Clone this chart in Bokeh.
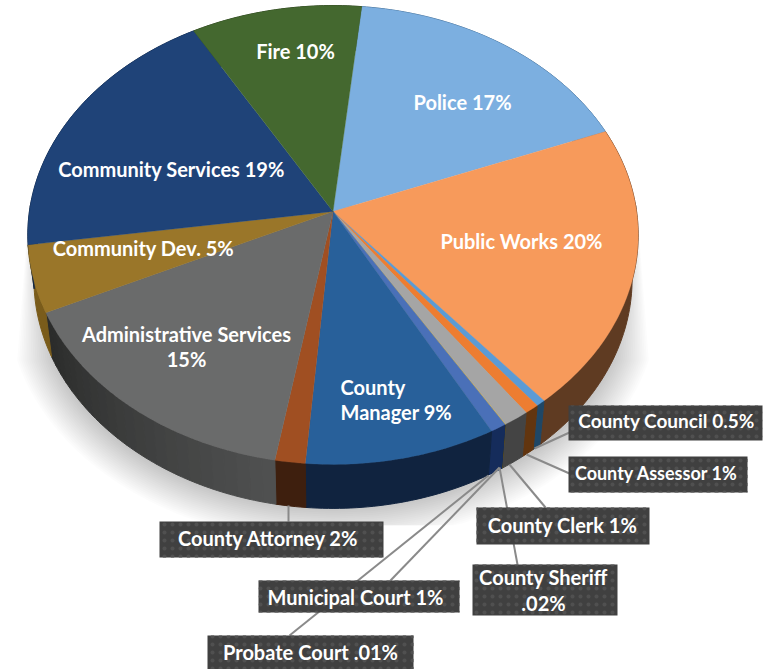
import numpy as np
from bokeh.plotting import figure
from bokeh.models import Range1d
from bokeh.core.properties import value
from bokeh.embed import file_html
from bokeh.resources import INLINE

# ---- data, clockwise from Police (shares as drawn in the picture)
slices = ["Police", "Public Works", "County Council", "County Assessor", "County Clerk",
          "County Sheriff", "Probate Court", "Municipal Court", "County Manager",
          "County Attorney", "Administrative Services", "Community Dev.", "Community Services", "Fire"]
shares = [17.4, 19.9, 0.45, 0.7, 1.25, 0.02, 0.01, 0.75, 9.2, 1.45, 15.25, 4.7, 19.0, 10.0]
top_colors = ["#7cafe0", "#f79a5b", "#5b9bd5", "#ed7d31", "#a5a5a5", "#ffc000", "#4472c4", "#4a70b8",
              "#28609a", "#a04f22", "#6a6b6b", "#9a7629", "#1f4378", "#44682f"]
wall_a = ["#3f6a90", "#5f3b22", "#1f4766", "#62350f", "#444444", "#665000", "#152c5b", "#152c5b",
          "#10233f", "#3e1f0e", "#505151", "#7a5c1b", "#12284a", "#2b3f1c"]
wall_b = ["#3f6a90", "#5f3b22", "#1f4766", "#62350f", "#444444", "#665000", "#152c5b", "#152c5b",
          "#10233f", "#3e1f0e", "#2a2b2a", "#7a5c1b", "#12284a", "#2b3f1c"]
start_deg = 6.0

labels_inside = ["Fire 10%", "Police 17%", "Public Works 20%", "Community Services 19%",
                 "Community Dev. 5%", "Administrative Services", "15%"]
inside_x = [295, 462, 521, 171, 143, 186, 186]
inside_y = [50, 101, 240, 168, 247, 333, 358]
manager_lines = ["County", "Manager 9%"]
manager_x = [340, 340]
manager_y = [386, 411]

box_left = [568, 568, 476, 472, 159, 258, 207]
box_right = [762, 747, 649, 617, 383, 459, 413]
box_top = [405, 456, 507, 564, 521, 580, 635]
box_bottom = [440, 492, 544, 615, 557, 612, 669]
box_text = ["County Clerk 1%", "County Sheriff", ".02%",
            "County Attorney 2%", "Municipal Court 1%", "Probate Court .01%"]
box_text_x = [562, 543, 543, 268, 355, 310]
box_text_y = [524, 576, 602, 537, 596, 651]
council_text, council_x, council_y = ["County Council 0.5%"], [666], [420]
assessor_text, assessor_x, assessor_y = ["County Assessor 1%"], [656], [472]
leader_x = [[534, 569], [526, 569], [509, 545], [499, 517], [288, 288], [499, 390], [488, 289]]
leader_y = [[448, 432], [454, 473], [464, 507], [467, 564], [505, 521], [467, 580], [475, 635]]

# ---- perspective disc
CX, CY = 332.5, 211.0
A, B, K = 303.6, 227.0, -0.1024
DEPTH, SHRINK = 44.0, 0.98


def rim(theta, lower=False):
    s = -np.cos(theta)
    w = 1 + K * s
    x = A * np.sin(theta) / w
    y = B * s / w
    if lower:
        return CX + x * SHRINK, CY + y + DEPTH
    return CX + x, CY + y


def lerp(c1, c2, t):
    a = [int(c1[i:i + 2], 16) for i in (1, 3, 5)]
    b = [int(c2[i:i + 2], 16) for i in (1, 3, 5)]
    return "#%02x%02x%02x" % tuple(int(round(u + (v - u) * t)) for u, v in zip(a, b))


frac = np.array(shares) / sum(shares)
edges = np.radians(start_deg) + np.concatenate([[0], np.cumsum(frac)]) * 2 * np.pi

p = figure(width=764, height=669, output_backend="svg", toolbar_location=None,
           x_range=Range1d(0, 764), y_range=Range1d(669, 0), min_border=0)
p.axis.visible = False
p.grid.visible = False
p.outline_line_color = None
p.background_fill_color = "white"
p.border_fill_color = "white"

# soft shadow: stacked translucent layers, tapering up along the pie's sides
LAYERS = 22
for i in range(LAYERS):
    d = i * 1.9
    rx, ry = 326 - d, 243 - d
    ys = np.linspace(205, 300 + ry, 160)
    knee = 300 + 60
    h_knee = rx * np.sqrt(1 - (60 / ry) ** 2)
    h = np.where(ys > knee,
                 rx * np.sqrt(np.clip(1 - ((ys - 300) / ry) ** 2, 0, 1)),
                 304 + (h_knee - 304) * (ys - 205) / (knee - 205))
    ysc = np.minimum(ys, 525)
    sx = np.concatenate([332.5 - h, (332.5 + h)[::-1]])
    sy = np.concatenate([ysc, ysc[::-1]])
    p.patch(sx, sy, fill_color="#000000", fill_alpha=0.0125, line_color=None)

# wall
wx, wy, wc = [], [], []
for a0, a1, ca, cb in zip(edges[:-1], edges[1:], wall_a, wall_b):
    n = 1 if ca == cb else 24
    th = np.linspace(a0, a1, n + 1)
    for j in range(n):
        tt = np.linspace(th[j], th[j + 1], max(3, int((th[j + 1] - th[j]) / np.radians(1)) + 2))
        xu, yu = rim(tt)
        xl, yl = rim(tt[::-1], True)
        wx.append(list(xu) + list(xl))
        wy.append(list(yu) + list(yl))
        wc.append(lerp(ca, cb, (j + 0.5) / n))
p.patches(wx, wy, fill_color=wc, line_color=wc, line_width=1)

# top
tx, ty = [], []
for a0, a1 in zip(edges[:-1], edges[1:]):
    th = np.linspace(a0, a1, max(3, int((a1 - a0) / np.radians(1)) + 2))
    rx_, ry_ = rim(th)
    tx.append([CX] + list(rx_))
    ty.append([CY] + list(ry_))
p.patches(tx, ty, fill_color=top_colors, line_color=top_colors, line_width=0.3)

# leaders
p.multi_line(leader_x, leader_y, line_color="#8a8a8a", line_width=2)

# boxes
p.quad(left=box_left, right=box_right, top=box_top, bottom=box_bottom,
       fill_color="#404040", line_color=None,
       hatch_pattern="dot", hatch_color="#505050", hatch_scale=8, hatch_weight=1)

FONT = value("Lato")
common = dict(text_color="white", text_font=FONT, text_font_style="bold", text_baseline="middle")
p.text(inside_x, inside_y, text=labels_inside, text_font_size="20px", text_align="center", **common)
p.text(manager_x, manager_y, text=manager_lines, text_font_size="20px", text_align="left", **common)
p.text(box_text_x, box_text_y, text=box_text, text_font_size="20px", text_align="center", **common)
p.text(council_x, council_y, text=council_text, text_font_size="19px", text_align="center", **common)
p.text(assessor_x, assessor_y, text=assessor_text, text_font_size="18px", text_align="center", **common)

open("out.html", "w").write(file_html(p, INLINE))
